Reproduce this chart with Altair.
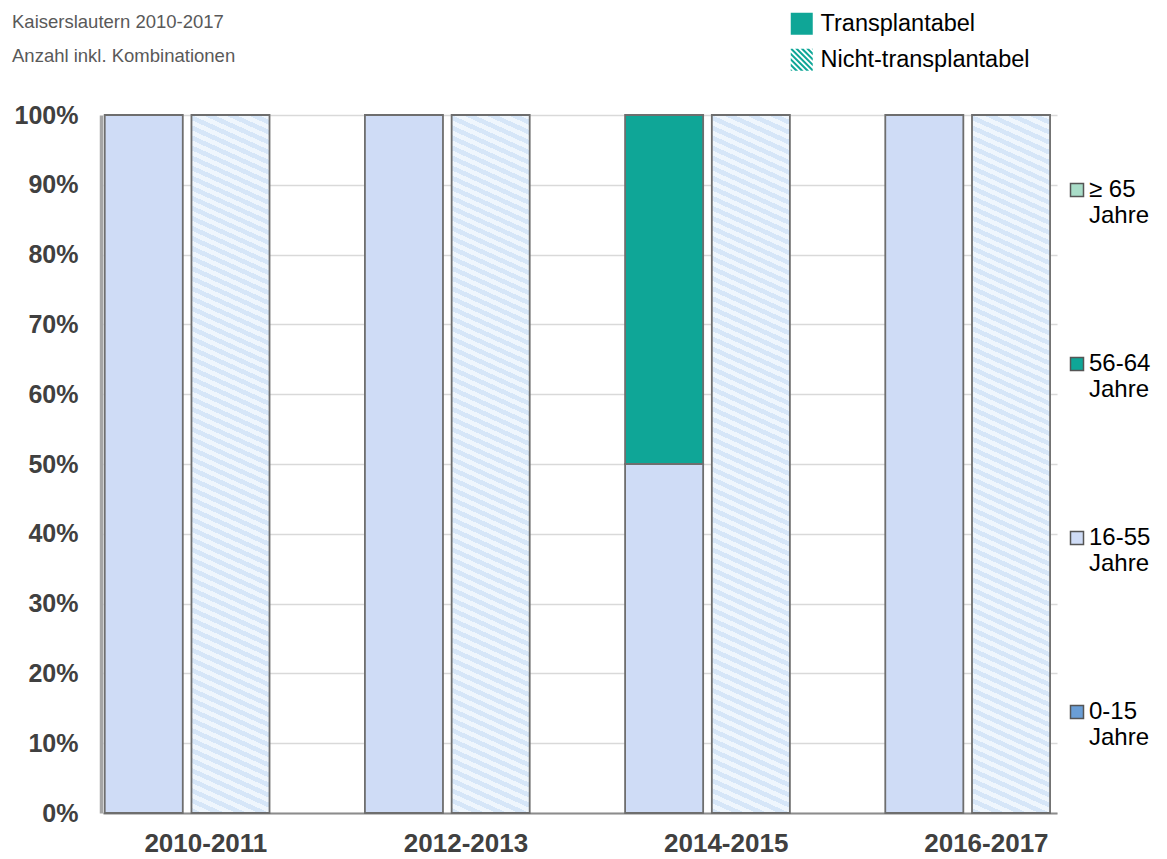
import json
import altair as alt
import pandas as pd

# ---------------- data ----------------
periods = ["2010-2011", "2012-2013", "2014-2015", "2016-2017"]
statuses = ["Transplantabel", "Nicht-transplantabel"]
age_groups = ["0-15 Jahre", "16-55 Jahre", "56-64 Jahre", "≥ 65 Jahre"]

# share (%) per age group - transplantabel
trans_0_15 = [0, 0, 0, 0]
trans_16_55 = [100, 100, 50, 100]
trans_56_64 = [0, 0, 50, 0]
trans_65 = [0, 0, 0, 0]
# share (%) per age group - nicht-transplantabel
nicht_0_15 = [0, 0, 0, 0]
nicht_16_55 = [100, 100, 100, 100]
nicht_56_64 = [0, 0, 0, 0]
nicht_65 = [0, 0, 0, 0]

subtitle = ["Kaiserslautern 2010-2017", "Anzahl inkl. Kombinationen"]

age_colors = {"0-15 Jahre": "#6a9ed6", "16-55 Jahre": "#cfdcf6",
              "56-64 Jahre": "#0fa697", "≥ 65 Jahre": "#a9ddc8"}

series = {
    "Transplantabel": [trans_0_15, trans_16_55, trans_56_64, trans_65],
    "Nicht-transplantabel": [nicht_0_15, nicht_16_55, nicht_56_64, nicht_65],
}
rows = []
for gi, period in enumerate(periods):
    for si, status in enumerate(statuses):
        for ai, age in enumerate(age_groups):
            rows.append({"period": period, "group": gi, "status": status, "s": si,
                         "age": age, "order": ai, "value": series[status][ai][gi]})
df = pd.DataFrame(rows)

# ---------------- styling helpers ----------------
FONT = "Liberation Sans"
PW, PH = 954, 698
NSLOTS = 11
BAR_W = 0.9 * PW / NSLOTS

# diagonal hatch for the bars, made from a striped linear gradient
m, P = 0.45, 10.0
s = (m * BAR_W + PH) / (m * m * BAR_W * BAR_W + PH * PH)
nper = int(round((m * BAR_W + PH) / P))
stops = []
for k in range(nper):
    t0 = k / nper
    t1 = (k + 0.5) / nper
    t2 = (k + 1) / nper
    stops += [alt.GradientStop(offset=t0, color="#d6e6f8"),
              alt.GradientStop(offset=t1, color="#d6e6f8"),
              alt.GradientStop(offset=t1, color="#eff6fd"),
              alt.GradientStop(offset=t2, color="#eff6fd")]
hatch = alt.LinearGradient(gradient="linear", stops=stops,
                           x1=0, y1=1, x2=s * m * BAR_W, y2=1 - s * PH)


def clip(poly, a, b, c):
    out = []
    n = len(poly)
    for i in range(n):
        p, q = poly[i], poly[(i + 1) % n]
        fp = a * p[0] + b * p[1] - c
        fq = a * q[0] + b * q[1] - c
        if fp <= 0:
            out.append(p)
        if (fp < 0 < fq) or (fq < 0 < fp):
            t = fp / (fp - fq)
            out.append((p[0] + t * (q[0] - p[0]), p[1] + t * (q[1] - p[1])))
    return out


def hatch_path():
    sq = [(-1, -1), (1, -1), (1, 1), (-1, 1)]
    parts = []
    per = 0.5
    lo = -2.1
    while lo < 2:
        hi = lo + 0.27
        poly = clip(sq, 1, -1, hi)
        poly = clip(poly, -1, 1, -lo)
        if len(poly) >= 3:
            parts.append("M" + "L".join(f"{x:.3f},{y:.3f}" for x, y in poly) + "Z")
        lo += per
    return "".join(parts)


xscale = alt.Scale(domain=[0, NSLOTS], nice=False, zero=False)
yscale = alt.Scale(domain=[0, 100], nice=False)

label_values = [g * 3 + 1.18 for g in range(len(periods))]
xaxis = alt.Axis(values=label_values,
                 labelExpr=f"{json.dumps(periods)}[floor(datum.value / 3)]",
                 title=None, ticks=False, grid=False, domainColor="#8c8c8c",
                 domainWidth=2, labelFont=FONT, labelFontSize=26,
                 labelFontWeight="bold", labelColor="#404040", labelPadding=17,
                 labelAngle=0)
yaxis = alt.Axis(values=list(range(0, 101, 10)), labelExpr="datum.value + '%'",
                 title=None, ticks=False, grid=True, gridColor="#d9d9d9",
                 gridWidth=1.5, domainColor="#a6a6a6", domainWidth=3.5, offset=2,
                 labelFont=FONT, labelFontSize=25, labelFontWeight="bold",
                 labelColor="#404040", labelPadding=23)

base = (alt.Chart(df)
        .transform_filter("datum.value > 0")
        .transform_stack(stack="value", groupby=["period", "status"],
                         as_=["y0", "y1"], sort=[alt.SortField("order", "ascending")])
        .transform_calculate(xs="datum.group * 3 + datum.s + 0.02",
                             xe="datum.group * 3 + datum.s + 0.92"))

legend_order = list(reversed(age_groups))
solid = (base.transform_filter("datum.status == 'Transplantabel'")
         .mark_bar(stroke="#6e6e6e", strokeWidth=1.8)
         .encode(x=alt.X("xs:Q", scale=xscale, axis=xaxis), x2="xe:Q",
                 y=alt.Y("y0:Q", scale=yscale, axis=yaxis), y2="y1:Q",
                 fill=alt.Fill("age:N",
                               scale=alt.Scale(domain=legend_order,
                                               range=[age_colors[a] for a in legend_order]),
                               legend=alt.Legend(
                                   orient="none", legendX=962, legendY=63,
                                   title=None, symbolType="square", symbolSize=169,
                                   symbolStrokeColor="#555555", symbolStrokeWidth=1.5,
                                   labelFont=FONT, labelFontSize=24, labelColor="black",
                                   labelExpr="[replace(datum.label, ' Jahre', ''), 'Jahre']",
                                   labelBaseline="middle", labelOffset=0,
                                   labelLimit=200, rowPadding=124))))

hatched = (base.transform_filter("datum.status == 'Nicht-transplantabel'")
           .mark_bar(fill=hatch, stroke="#6e6e6e", strokeWidth=1.8)
           .encode(x=alt.X("xs:Q", scale=xscale, axis=xaxis), x2="xe:Q",
                   y=alt.Y("y0:Q", scale=yscale, axis=yaxis), y2="y1:Q"))

status_legend = (alt.Chart(pd.DataFrame({"status": statuses}))
                 .mark_point(filled=True, opacity=0, fill="#0fa697")
                 .encode(x=alt.value(0), y=alt.value(0),
                         shape=alt.Shape("status:N",
                                         scale=alt.Scale(domain=statuses,
                                                         range=["square", hatch_path()]),
                                         legend=alt.Legend(
                                             orient="none", legendX=687, legendY=-103,
                                             title=None, symbolSize=484,
                                             symbolFillColor="#0fa697",
                                             symbolStrokeWidth=0, symbolOpacity=1,
                                             labelFont=FONT, labelFontSize=23.5,
                                             labelColor="black", labelOffset=7,
                                             rowPadding=11, labelLimit=300))))

sub = (alt.Chart(pd.DataFrame({"t": [0]}))
       .mark_text(font=FONT, fontSize=18.5, color="#595959", align="left",
                  baseline="alphabetic", lineHeight=34)
       .encode(x=alt.value(-91), y=alt.value(-87), text=alt.value(subtitle)))

chart = (alt.layer(solid, hatched, status_legend, sub)
         .properties(width=PW, height=PH,
                     autosize=alt.AutoSizeParams(type="none"),
                     padding={"left": 95, "top": 107, "right": 100, "bottom": 44},
                     background="white")
         .configure_view(stroke=None))

chart.save("out.html", embed_options={"renderer": "svg", "actions": False})
